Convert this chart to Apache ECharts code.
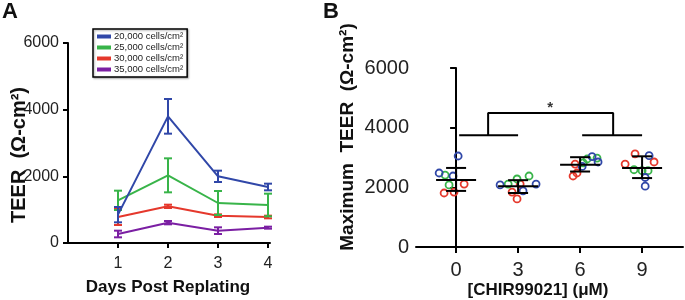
<!DOCTYPE html>
<html>
<head>
<meta charset="utf-8">
<script src="https://cdn.jsdelivr.net/npm/echarts@6/dist/echarts.min.js"></script>
<style>
html, body { margin: 0; padding: 0; background: #fff; }
#main { width: 685px; height: 300px; }
</style>
</head>
<body>
<div id="main"></div>
<script>
// Panel A - TEER over days for each seeding density
var days = [1, 2, 3, 4];
var densityNames = ['20,000 cells/cm²', '25,000 cells/cm²', '30,000 cells/cm²', '35,000 cells/cm²'];
var densityColors = ['#3047a8', '#38b449', '#e5382c', '#7b1fa3'];
var teer20 = [850, 3800, 2000, 1680];
var err20 = [230, 520, 170, 100];
var teer25 = [1280, 2030, 1200, 1140];
var err25 = [290, 510, 360, 340];
var teer30 = [780, 1100, 820, 780];
var err30 = [240, 50, 40, 40];
var teer35 = [270, 610, 370, 460];
var err35 = [100, 50, 100, 30];

// Panel B - max TEER vs CHIR99021 dose, points are [dose, jitter, value]
var doses = [0, 3, 6, 9];
var bluePts = [[0, -0.82, 2480], [0, -0.15, 2380], [0, 0.1, 3050],
               [3, -0.87, 2080], [3, 0.87, 2110], [3, 0.24, 1880],
               [6, 0.58, 3030], [6, 0.87, 2850], [6, 0.1, 2700],
               [9, 0.34, 3060], [9, 0.15, 2330], [9, 0.15, 2040]];
var greenPts = [[0, -0.53, 2410], [0, -0.34, 2080],
                [3, -0.48, 2110], [3, -0.05, 2280], [3, 0.53, 2380],
                [6, 0.34, 2950], [6, 0.82, 2980], [6, 0.15, 2820],
                [9, -0.39, 2590], [9, 0, 2560], [9, 0.29, 2560]];
var redPts = [[0, -0.58, 1810], [0, -0.1, 1840], [0, 0.39, 2110],
              [3, -0.29, 1840], [3, -0.05, 1610], [3, 0.1, 2110],
              [6, -0.34, 2380], [6, -0.15, 2480], [6, -0.24, 2780],
              [9, -0.34, 3120], [9, 0.58, 2850], [9, -0.82, 2780]];
var doseMean = [2250, 2040, 2760, 2650];
var doseHigh = [2650, 2240, 3010, 3040];
var doseLow = [1880, 1810, 2530, 2310];
var bracketLeft = [[0.15, 3750], [3.0, 3750]];
var bracketRight = [[6.1, 3750], [9.0, 3750]];
var bracketTop = [[1.55, 3750], [1.55, 4490], [7.6, 4490], [7.6, 3750]];
var starPos = [[4.55, 4650]];

var fontName = 'Liberation Sans, Arial, sans-serif';

function toPts(arr) {
    var out = [];
    for (var i = 0; i < arr.length; i++) {
        out.push([arr[i][0] + arr[i][1], arr[i][2]]);
    }
    return out;
}

function errData(vals, errs) {
    var out = [];
    for (var i = 0; i < vals.length; i++) {
        out.push([days[i], vals[i] - errs[i], vals[i] + errs[i]]);
    }
    return out;
}

// vertical bar with caps for panel A
function renderErr(color) {
    return function (params, api) {
        var lo = api.coord([api.value(0), api.value(1)]);
        var hi = api.coord([api.value(0), api.value(2)]);
        var w = 4;
        var st = { stroke: color, lineWidth: 2 };
        return {
            type: 'group',
            children: [
                { type: 'line', shape: { x1: lo[0], y1: lo[1], x2: hi[0], y2: hi[1] }, style: st },
                { type: 'line', shape: { x1: lo[0] - w, y1: lo[1], x2: lo[0] + w, y2: lo[1] }, style: st },
                { type: 'line', shape: { x1: hi[0] - w, y1: hi[1], x2: hi[0] + w, y2: hi[1] }, style: st }
            ]
        };
    };
}

// mean line plus sd caps for panel B
function renderMean(params, api) {
    var m = api.coord([api.value(0), api.value(1)]);
    var lo = api.coord([api.value(0), api.value(2)]);
    var hi = api.coord([api.value(0), api.value(3)]);
    var st = { stroke: '#000', lineWidth: 2 };
    return {
        type: 'group',
        children: [
            { type: 'line', shape: { x1: m[0] - 20, y1: m[1], x2: m[0] + 20, y2: m[1] }, style: st },
            { type: 'line', shape: { x1: lo[0], y1: lo[1], x2: hi[0], y2: hi[1] }, style: st },
            { type: 'line', shape: { x1: lo[0] - 10, y1: lo[1], x2: lo[0] + 10, y2: lo[1] }, style: st },
            { type: 'line', shape: { x1: hi[0] - 10, y1: hi[1], x2: hi[0] + 10, y2: hi[1] }, style: st }
        ]
    };
}

var meanData = [];
for (var i = 0; i < doses.length; i++) {
    meanData.push([doses[i], doseMean[i], doseLow[i], doseHigh[i]]);
}

var axisLineStyle = { show: true, lineStyle: { color: '#000', width: 2 } };
var plainNum = function (v) { return String(v); };

var aSeries = [];
var aVals = [teer20, teer25, teer30, teer35];
var aErrs = [err20, err25, err30, err35];
// draw lowest density first so blue sits on top
for (var k = 3; k >= 0; k--) {
    var pts = [];
    for (var j = 0; j < days.length; j++) pts.push([days[j], aVals[k][j]]);
    aSeries.push({
        name: densityNames[k],
        type: 'line',
        xAxisIndex: 0, yAxisIndex: 0,
        data: pts,
        symbol: 'none',
        color: densityColors[k],
        lineStyle: { width: 2, color: densityColors[k] },
        z: 3 + (3 - k)
    });
    aSeries.push({
        type: 'custom',
        xAxisIndex: 0, yAxisIndex: 0,
        renderItem: renderErr(densityColors[k]),
        data: errData(aVals[k], aErrs[k]),
        z: 3 + (3 - k)
    });
}

function dotSeries(pts, color) {
    return {
        type: 'scatter', xAxisIndex: 1, yAxisIndex: 1,
        data: toPts(pts),
        symbol: 'circle', symbolSize: 7,
        itemStyle: { color: 'rgba(255,255,255,0)', borderColor: color, borderWidth: 1.8, opacity: 1 },
        z: 3
    };
}

var bLine = { color: '#000', width: 2 };
var bSeries = [
    dotSeries(redPts, '#e5382c'),
    dotSeries(greenPts, '#38b449'),
    dotSeries(bluePts, '#3047a8'),
    { type: 'custom', xAxisIndex: 1, yAxisIndex: 1, renderItem: renderMean, data: meanData, z: 5 },
    { type: 'line', xAxisIndex: 1, yAxisIndex: 1, data: bracketLeft, symbol: 'none', lineStyle: bLine, silent: true },
    { type: 'line', xAxisIndex: 1, yAxisIndex: 1, data: bracketRight, symbol: 'none', lineStyle: bLine, silent: true },
    { type: 'line', xAxisIndex: 1, yAxisIndex: 1, data: bracketTop, symbol: 'none', lineStyle: bLine, silent: true },
    { type: 'scatter', xAxisIndex: 1, yAxisIndex: 1, data: starPos, symbolSize: 0, silent: true,
      label: { show: true, position: 'inside', formatter: '*', color: '#000', fontSize: 15, fontWeight: 'bold', fontFamily: fontName } }
];

var myChart = echarts.init(document.getElementById('main'));
var option = {
    backgroundColor: '#fff',
    animation: false,
    textStyle: { fontFamily: fontName },
    legend: {
        data: densityNames,
        orient: 'vertical',
        left: 93, top: 29,
        padding: [2, 4, 2, 4],
        itemGap: 0,
        itemWidth: 14, itemHeight: 4,
        icon: 'rect',
        borderColor: '#000', borderWidth: 1.5,
        shadowColor: 'rgba(0,0,0,0.3)', shadowBlur: 2, shadowOffsetX: 1, shadowOffsetY: 1,
        backgroundColor: '#fff',
        textStyle: { fontSize: 9.5, color: '#222', lineHeight: 11, padding: [0, 0, 0, -2] },
        selectedMode: false
    },
    grid: [
        { left: 68, right: 415, top: 43, bottom: 57 },
        { left: 416, right: 2, top: 68, bottom: 53 }
    ],
    xAxis: [
        {
            gridIndex: 0, type: 'value', min: 0, max: 4.04,
            axisLine: axisLineStyle,
            axisTick: { show: true, length: 5, lineStyle: { color: '#000', width: 2 }, customValues: days },
            axisLabel: { customValues: days, fontSize: 16, color: '#222', margin: 13 },
            splitLine: { show: false }
        },
        {
            gridIndex: 1, type: 'value', min: -1.94, max: 10.98,
            axisLine: axisLineStyle,
            axisTick: { show: true, length: 6, lineStyle: { color: '#000', width: 2 }, customValues: doses },
            axisLabel: { customValues: doses, fontSize: 20, color: '#222', margin: 13 },
            splitLine: { show: false }
        }
    ],
    yAxis: [
        {
            gridIndex: 0, type: 'value', min: 0, max: 6000, interval: 2000,
            axisLine: axisLineStyle,
            axisTick: { show: true, length: 5, lineStyle: { color: '#000', width: 2 } },
            axisLabel: { fontSize: 16, color: '#222', margin: 9, formatter: plainNum },
            splitLine: { show: false }
        },
        {
            gridIndex: 1, type: 'value', min: 0, max: 6000, interval: 2000,
            axisLine: axisLineStyle,
            axisTick: { show: true, length: 6, lineStyle: { color: '#000', width: 2 } },
            axisLabel: { fontSize: 20, color: '#222', margin: 7, formatter: plainNum },
            splitLine: { show: false }
        }
    ],
    graphic: [
        { type: 'text', left: 2, top: 1, style: { text: 'A', font: 'bold 22px ' + fontName, fill: '#111' } },
        { type: 'text', left: 323, top: 1, style: { text: 'B', font: 'bold 22px ' + fontName, fill: '#111' } },
        { type: 'text', x: 19, y: 155, rotation: Math.PI / 2,
          style: { text: 'TEER  (Ω-cm²)', font: 'bold 20px ' + fontName, fill: '#111', align: 'center', verticalAlign: 'middle' } },
        { type: 'text', x: 348, y: 137, rotation: Math.PI / 2,
          style: { text: 'Maximum  TEER  (Ω-cm²)', font: 'bold 19px ' + fontName, fill: '#111', align: 'center', verticalAlign: 'middle' } },
        { type: 'text', x: 168, y: 287,
          style: { text: 'Days Post Replating', font: 'bold 17px ' + fontName, fill: '#111', align: 'center', verticalAlign: 'middle' } },
        { type: 'text', x: 538, y: 290,
          style: { text: '[CHIR99021] (μM)', font: 'bold 17px ' + fontName, fill: '#111', align: 'center', verticalAlign: 'middle' } }
    ],
    series: aSeries.concat(bSeries)
};
myChart.setOption(option);
</script>
</body>
</html>
